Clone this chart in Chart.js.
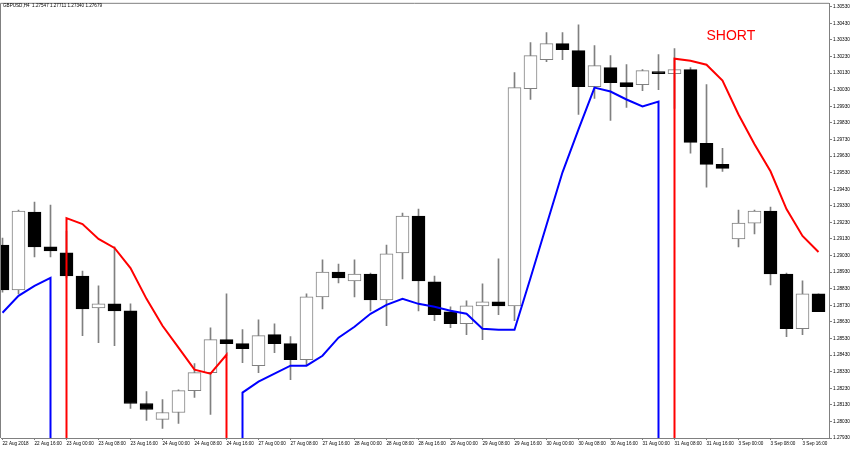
<!DOCTYPE html>
<html>
<head>
<meta charset="utf-8">
<script src="https://cdn.jsdelivr.net/npm/chart.js@4.4.1/dist/chart.umd.min.js"></script>
<style>
html,body{margin:0;padding:0;background:#fff;}
#wrap{width:852px;height:450px;position:relative;}
</style>
</head>
<body>
<div id="wrap"><canvas id="c"></canvas></div>
<script>
const symbolTitle = 'GBPUSD,H4  1.27547 1.27711 1.27340 1.27679';
const signalText = 'SHORT';
const signalIndex = 44;
const signalPrice = 1.30352;

const xTickIndex = [0,2,4,6,8,10,12,14,16,18,20,22,24,26,28,30,32,34,36,38,40,42,44,46,48,50];
const xTickLabels = ['22 Aug 2018','22 Aug 16:00','23 Aug 00:00','23 Aug 08:00','23 Aug 16:00','24 Aug 00:00','24 Aug 08:00','24 Aug 16:00','27 Aug 00:00','27 Aug 08:00','27 Aug 16:00','28 Aug 00:00','28 Aug 08:00','28 Aug 16:00','29 Aug 00:00','29 Aug 08:00','29 Aug 16:00','30 Aug 00:00','30 Aug 08:00','30 Aug 16:00','31 Aug 00:00','31 Aug 08:00','31 Aug 16:00','3 Sep 00:00','3 Sep 08:00','3 Sep 16:00'];

const yTickValues = [1.27930,1.28030,1.28130,1.28230,1.28330,1.28430,1.28530,1.28630,1.28730,1.28830,1.28930,1.29030,1.29130,1.29230,1.29330,1.29430,1.29530,1.29630,1.29730,1.29830,1.29930,1.30030,1.30130,1.30230,1.30330,1.30430,1.30530];

const openP  = [1.29094,1.28823,1.29292,1.29082,1.29046,1.28907,1.28715,1.28739,1.28697,1.28138,1.28042,1.28084,1.28216,1.28324,1.28523,1.28499,1.28366,1.28553,1.28499,1.28402,1.28781,1.28931,1.28877,1.28919,1.28763,1.29046,1.29268,1.28871,1.28691,1.28619,1.28727,1.28751,1.28727,1.30037,1.30211,1.30308,1.30266,1.30049,1.30163,1.30073,1.30061,1.30139,1.30127,1.30151,1.29707,1.29580,1.29130,1.29226,1.29298,1.28919,1.28589,1.28799];
const highP  = [1.29136,1.29304,1.29352,1.29334,1.29178,1.28937,1.28847,1.29082,1.28739,1.28210,1.28162,1.28220,1.28378,1.28595,1.28799,1.28583,1.28643,1.28619,1.28541,1.28799,1.29004,1.28979,1.29004,1.28925,1.29094,1.29286,1.29310,1.28907,1.28721,1.28757,1.28859,1.29010,1.30133,1.30314,1.30374,1.30374,1.30422,1.30296,1.30236,1.30181,1.30151,1.30242,1.30278,1.30163,1.30061,1.29677,1.29304,1.29304,1.29322,1.28925,1.28877,1.28799];
const lowP   = [1.28810,1.28799,1.29022,1.29022,1.28895,1.28547,1.28505,1.28487,1.28108,1.28036,1.27988,1.28018,1.28174,1.28072,1.28426,1.28384,1.28324,1.28445,1.28282,1.28366,1.28709,1.28865,1.28781,1.28697,1.28607,1.28889,1.28697,1.28637,1.28595,1.28553,1.28523,1.28673,1.28637,1.29971,1.30199,1.30211,1.29881,1.29977,1.29845,1.29923,1.30025,1.30031,1.29917,1.29647,1.29442,1.29538,1.29082,1.29160,1.28853,1.28541,1.28553,1.28691];
const closeP = [1.28823,1.29298,1.29082,1.29058,1.28907,1.28709,1.28739,1.28697,1.28138,1.28102,1.28084,1.28216,1.28324,1.28523,1.28499,1.28469,1.28547,1.28499,1.28402,1.28781,1.28931,1.28895,1.28919,1.28763,1.29040,1.29268,1.28877,1.28673,1.28619,1.28727,1.28751,1.28727,1.30043,1.30236,1.30308,1.30272,1.30049,1.30175,1.30073,1.30049,1.30145,1.30127,1.30151,1.29713,1.29580,1.29556,1.29226,1.29298,1.28919,1.28589,1.28799,1.28691];

const blueStop = [1.28685,1.28787,1.28847,1.28895,null,null,null,null,null,null,null,null,null,null,null,1.28204,1.28270,1.28318,1.28366,1.28366,1.28426,1.28535,1.28601,1.28679,1.28733,1.28769,1.28739,1.28721,1.28697,1.28679,1.28589,1.28583,1.28583,1.28895,1.29214,1.29532,1.29791,1.30043,1.30019,1.29971,1.29929,1.29959,null,null,null,null,null,null,null,null,null,null];
const redStop  = [null,null,null,null,1.29256,1.29220,1.29130,1.29076,1.28955,1.28769,1.28607,1.28475,1.28342,1.28318,1.28432,null,null,null,null,null,null,null,null,null,null,null,null,null,null,null,null,null,null,null,null,null,null,null,null,null,null,null,1.30217,1.30205,1.30181,1.30085,1.29881,1.29701,1.29538,1.29310,1.29148,1.29052];

const Y_MIN = 1.27930, Y_MAX = 1.30548;
const X_MIN = -0.09375, X_MAX = 51.65625;

function buildSegments(vals, floor) {
  const pts = [];
  let i = 0;
  while (i < vals.length) {
    if (vals[i] == null) { i++; continue; }
    const s = i;
    while (i < vals.length && vals[i] != null) i++;
    const e = i - 1;
    if (pts.length) pts.push({x: s - 0.5, y: null});
    if (s > 0) pts.push({x: s, y: floor});
    for (let k = s; k <= e; k++) pts.push({x: k, y: vals[k]});
    if (e < vals.length - 1) pts.push({x: e, y: floor});
  }
  return pts;
}

const idx = openP.map((_, i) => i);
const bull = idx.map(i => closeP[i] >= openP[i]);

const wickData = idx.map(i => ({x: i, y: [lowP[i], highP[i]]}));
const bodyData = idx.map(i => ({x: i, y: [Math.min(openP[i], closeP[i]), Math.max(openP[i], closeP[i])]}));

const textPlugin = {
  id: 'texts',
  afterDatasetsDraw(chart) {
    const {ctx, chartArea} = chart;
    ctx.save();
    ctx.strokeStyle = '#808080';
    ctx.lineWidth = 1;
    ctx.beginPath();
    ctx.moveTo(chartArea.left - 0.5, chartArea.bottom);
    ctx.lineTo(chartArea.left - 0.5, chartArea.top - 0.5);
    ctx.lineTo(chartArea.right, chartArea.top - 0.5);
    ctx.stroke();
    ctx.restore();
  },
  afterDraw(chart) {
    const {ctx} = chart;
    const xs = chart.scales.x, ys = chart.scales.y;
    ctx.save();
    ctx.fillStyle = '#000';
    ctx.font = '4.6px "Liberation Sans", Arial, sans-serif';
    ctx.textBaseline = 'middle';
    ctx.textAlign = 'left';
    ctx.fillText(symbolTitle, 3, 6);
    ctx.fillStyle = '#ff0000';
    ctx.font = '14px "Liberation Sans", Arial, sans-serif';
    ctx.fillText(signalText, xs.getPixelForValue(signalIndex), ys.getPixelForValue(signalPrice));
    ctx.restore();
  }
};

new Chart(document.getElementById('c'), {
  type: 'bar',
  data: {
    datasets: [
      {
        type: 'line', label: 'Long stop', data: buildSegments(blueStop, Y_MIN),
        borderColor: '#0000ff', borderWidth: 2, pointRadius: 0, tension: 0,
        spanGaps: false, fill: false, order: 0
      },
      {
        type: 'line', label: 'Short stop', data: buildSegments(redStop, Y_MIN),
        borderColor: '#ff0000', borderWidth: 2, pointRadius: 0, tension: 0,
        spanGaps: false, fill: false, order: 0
      },
      {
        type: 'bar', label: 'Body', data: bodyData,
        backgroundColor: bull.map(b => b ? '#ffffff' : '#000000'),
        borderColor: bull.map(b => b ? '#808080' : '#000000'),
        borderWidth: 1, borderSkipped: false, barThickness: 13, grouped: false, order: 1
      },
      {
        type: 'bar', label: 'Wick', data: wickData,
        backgroundColor: '#808080', borderWidth: 0, barThickness: 1, grouped: false, order: 2
      }
    ]
  },
  options: {
    responsive: true,
    maintainAspectRatio: false,
    animation: false,
    events: [],
    layout: { padding: { top: 2, left: 1, right: 0, bottom: 0 } },
    plugins: { legend: { display: false }, tooltip: { enabled: false }, title: { display: false } },
    scales: {
      x: {
        type: 'linear', position: 'bottom', min: X_MIN, max: X_MAX, offset: false,
        grid: { display: true, drawOnChartArea: false, drawTicks: true, tickLength: 2, color: '#808080', offset: false },
        border: { display: true, color: '#808080', width: 1 },
        ticks: {
          autoSkip: false, maxRotation: 0, minRotation: 0, align: 'start', padding: 1,
          color: '#000', font: { family: '"Liberation Sans", Arial, sans-serif', size: 4.6 },
          callback: (v, i) => xTickLabels[i]
        },
        afterBuildTicks: (axis) => { axis.ticks = xTickIndex.map(v => ({value: v})); },
        afterFit: (axis) => { axis.height = 12; }
      },
      y: {
        type: 'linear', position: 'right', min: Y_MIN, max: Y_MAX,
        grid: { display: true, drawOnChartArea: false, drawTicks: true, tickLength: 3, color: '#808080' },
        border: { display: true, color: '#808080', width: 1 },
        ticks: {
          autoSkip: false, padding: 1, color: '#000',
          font: { family: '"Liberation Sans", Arial, sans-serif', size: 4.7 },
          callback: (v) => Number(v).toFixed(5)
        },
        afterBuildTicks: (axis) => { axis.ticks = yTickValues.map(v => ({value: v})); },
        afterFit: (axis) => { axis.width = 23; }
      }
    }
  },
  plugins: [textPlugin]
});
</script>
</body>
</html>
